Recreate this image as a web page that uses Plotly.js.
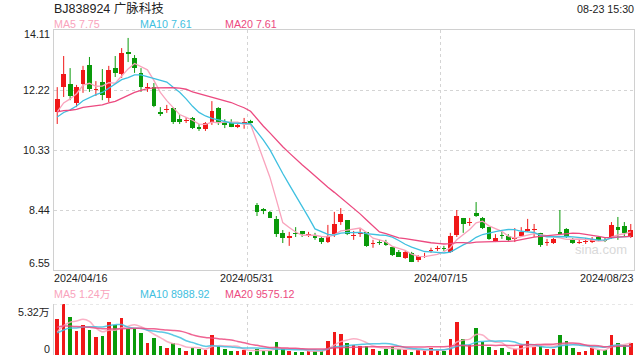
<!DOCTYPE html>
<html><head><meta charset="utf-8">
<script src="https://cdn.plot.ly/plotly-3.0.1.min.js"></script>
<style>html,body{margin:0;padding:0;background:#fff}#c{width:640px;height:360px}</style>
</head><body><div id="c"></div>
<script>
const titleText = 'BJ838924 广脉科技';
const timeText = '08-23 15:30';
const dateLabels = ['2024/04/16','2024/05/31','2024/07/15','2024/08/23'];
const dateIdx = [0,30,60,89];
const priceTicks = [14.11,12.22,10.33,8.44,6.55];
const volTickLabels = ['5.32万','0'];
const volMax = 53200;
const volMaText = ['MA5 1.24万','MA10 8988.92','MA20 9575.12'];

const open  = [11.53,12.31,12.41,11.81,12.41,13.01,12.22,12.47,11.97,12.91,12.72,13.42,13.23,12.76,12.28,12.31,11.53,11.60,11.65,11.30,11.25,11.34,11.05,10.99,11.21,11.65,11.21,11.18,11.05,11.18,11.24,8.60,8.47,8.38,8.16,7.72,7.56,7.72,7.78,7.66,7.65,7.56,7.43,7.68,8.06,8.12,7.62,7.68,7.75,7.37,7.43,7.43,7.28,7.12,6.93,7.09,6.87,6.96,7.15,7.21,7.25,7.12,7.65,8.19,8.03,8.34,8.19,7.90,7.46,7.65,7.62,7.53,7.62,7.78,7.80,7.72,7.40,7.40,7.75,7.84,7.53,7.40,7.43,7.43,7.59,7.50,7.59,7.90,7.94,7.59];
const close = [11.94,12.72,12.03,12.31,12.85,12.25,12.25,12.06,12.85,12.76,13.39,13.36,12.91,12.31,12.31,11.72,11.47,11.62,11.21,11.21,11.28,11.02,11.00,11.18,11.56,11.18,11.12,11.05,11.12,11.21,11.18,8.38,8.41,8.19,7.68,7.56,7.62,7.68,7.68,7.68,7.56,7.43,7.62,8.00,8.31,7.68,7.65,7.72,7.31,7.40,7.40,7.34,7.02,6.96,7.12,6.80,6.99,6.99,7.18,7.25,7.21,7.62,8.25,8.00,8.06,8.25,7.87,7.53,7.56,7.62,7.50,7.56,7.75,7.84,7.84,7.34,7.43,7.53,7.68,7.59,7.40,7.43,7.46,7.53,7.50,7.46,7.97,7.81,7.72,7.81];
const high  = [12.31,13.29,12.91,12.38,12.98,13.26,12.50,12.88,12.98,13.29,13.54,13.86,13.32,12.91,12.44,12.44,11.68,11.75,11.68,11.43,11.37,11.37,11.15,11.21,11.87,11.68,11.30,11.30,11.18,11.34,11.28,8.66,8.50,8.41,8.25,7.81,7.75,7.90,7.78,7.75,7.72,7.59,7.97,8.38,8.50,8.12,7.78,7.87,7.75,7.50,7.50,7.50,7.28,7.18,7.15,7.12,7.02,7.09,7.25,7.31,7.31,7.72,8.44,8.19,8.19,8.69,8.22,7.90,7.68,7.75,7.68,7.87,7.90,8.16,8.00,7.72,7.53,7.56,8.44,7.87,7.56,7.50,7.56,7.59,7.62,7.56,8.06,8.22,8.06,8.00];
const low   = [11.15,12.00,11.90,11.68,12.13,12.16,12.03,11.90,11.84,12.63,12.60,13.10,12.76,12.16,12.16,11.68,11.40,11.50,11.15,11.15,11.18,10.99,10.93,10.93,11.12,11.12,11.02,11.05,11.02,11.00,11.12,8.25,8.31,8.19,7.59,7.40,7.31,7.59,7.59,7.59,7.50,7.37,7.40,7.59,7.97,7.65,7.50,7.59,7.28,7.25,7.34,7.31,6.99,6.96,6.90,6.80,6.80,6.93,7.09,7.15,7.15,7.09,7.59,7.72,7.94,8.22,7.84,7.50,7.43,7.53,7.46,7.43,7.59,7.75,7.59,7.28,7.31,7.37,7.65,7.56,7.37,7.37,7.37,7.40,7.46,7.43,7.53,7.50,7.62,7.56];
const volume = [37500,53200,39300,25300,31300,26000,18500,19800,34000,31300,38300,26800,27800,23300,12800,17400,9400,7600,12200,7600,4500,7000,6300,5200,20900,9400,6300,4500,4200,5200,3500,6300,4200,4200,13900,6000,4200,3500,3500,4200,4200,4500,14900,24300,21900,12800,10400,9400,9400,6300,4200,6300,8000,6000,5200,3500,5200,4200,7000,5200,4200,16700,34800,16700,10400,28500,13900,8700,5200,7600,3500,6300,10400,14900,8700,9400,6300,6300,20900,14900,7600,3500,4500,7600,5200,5200,20900,12800,10400,12800];
// estimated closes/volumes of the 19 sessions before the window (seed the moving averages)
const priorCloses = [11.9,11.8,11.7,11.6,11.7,11.75,11.65,11.6,11.7,11.5,11.3,11.2,11.1,11.2,11.25,11.3,11.4,11.5,11.51];
const priorVolumes = [30000,40000,35000,38000,32000,36000,34000,37000,33000,35000,22000,20000,25000,21000,22000,20000,22000,19000,21500];

const RED='#f01818', GREEN='#0a9a0a';
const C5='#f9a3bc', C10='#3fc0e0', C20='#ec4a80';
const FONT='"Liberation Sans", Arial, "Noto Sans CJK SC", sans-serif';

function ma(prior, data, n){
  const all = prior.concat(data), off = prior.length, out=[];
  for(let i=0;i<data.length;i++){
    const j=i+off; let s=0,c=0;
    for(let k=Math.max(0,j-n+1);k<=j;k++){s+=all[k];c++;}
    out.push(s/c);
  }
  return out;
}
const idx = close.map((_,i)=>i);
const up = idx.map(i=>close[i]>=open[i]);
const colors = up.map(u=>u?RED:GREEN);
const m5=ma(priorCloses,close,5), m10=ma(priorCloses,close,10), m20=ma(priorCloses,close,20);
const v5=ma(priorVolumes,volume,5), v10=ma(priorVolumes,volume,10), v20=ma(priorVolumes,volume,20);

function wick(sel){
  const x=[],y=[];
  idx.forEach(i=>{ if(up[i]===sel){x.push(i,i,null);y.push(low[i],high[i],null);} });
  return {type:'scatter',mode:'lines',x,y,line:{color:sel?RED:GREEN,width:1},hoverinfo:'skip',xaxis:'x',yaxis:'y'};
}
const traces=[
  wick(true), wick(false),
  {type:'bar',x:idx,base:idx.map(i=>Math.min(open[i],close[i])),
   y:idx.map(i=>Math.max(Math.abs(close[i]-open[i]),0.03)),width:0.74,
   marker:{color:colors,line:{width:0}},hoverinfo:'skip',xaxis:'x',yaxis:'y'},
  {type:'scatter',mode:'lines',x:idx,y:m5,line:{color:C5,width:1.3},hoverinfo:'skip',xaxis:'x',yaxis:'y'},
  {type:'scatter',mode:'lines',x:idx,y:m10,line:{color:C10,width:1.3},hoverinfo:'skip',xaxis:'x',yaxis:'y'},
  {type:'scatter',mode:'lines',x:idx,y:m20,line:{color:C20,width:1.3},hoverinfo:'skip',xaxis:'x',yaxis:'y'},
  {type:'bar',x:idx,y:volume,width:0.55,marker:{color:colors,line:{width:0}},hoverinfo:'skip',xaxis:'x2',yaxis:'y2'},
  {type:'scatter',mode:'lines',x:idx,y:v5,line:{color:C5,width:1.5,shape:'spline'},opacity:0.85,hoverinfo:'skip',xaxis:'x2',yaxis:'y2'},
  {type:'scatter',mode:'lines',x:idx,y:v10,line:{color:C10,width:1.5,shape:'spline'},opacity:0.85,hoverinfo:'skip',xaxis:'x2',yaxis:'y2'},
  {type:'scatter',mode:'lines',x:idx,y:v20,line:{color:C20,width:1.5,shape:'spline'},opacity:0.85,hoverinfo:'skip',xaxis:'x2',yaxis:'y2'}
];

const W=640,H=360;
const px=v=>v/W, py=v=>1-v/H;
const gridX = dateIdx.slice(1,3).map(i=>i-0.5);
const xr=[-0.5, close.length-0.5];
const ann=[];
const txt=(text,x,y,xanchor,size,color,xref,yref,yshift)=>ann.push({text,x,y,xanchor,yanchor:'middle',xref:xref||'paper',yref:yref||'paper',yshift:yshift||0,showarrow:false,borderpad:0,borderwidth:0,font:{family:FONT,size,color}});
txt(titleText,px(54),py(8.5),'left',12.5,'#222');
txt(timeText,px(634),py(9),'right',10.7,'#222');
const f2=v=>v.toFixed(2);
txt('MA5 '+f2(m5[m5.length-1]),px(54),py(24),'left',10.7,C5);
txt('MA10 '+f2(m10[m10.length-1]),px(140),py(24),'left',10.7,C10);
txt('MA20 '+f2(m20[m20.length-1]),px(225),py(24),'left',10.7,C20);
txt(volMaText[0],px(54),py(294),'left',10.7,C5);
txt(volMaText[1],px(140),py(294),'left',10.7,C10);
txt(volMaText[2],px(225),py(294),'left',10.7,C20);
priceTicks.forEach((v,k)=>{
  const sh = k===0?-4:(k===priceTicks.length-1?7:0);
  txt(v.toFixed(2),px(50),v,'right',10.7,'#222','paper','y',sh);
});
txt(volTickLabels[0],px(50),volMax,'right',10.7,'#222','paper','y2',-8);
txt(volTickLabels[1],px(50),0,'right',10.7,'#222','paper','y2',6);
dateLabels.forEach((d,k)=>{
  const i=dateIdx[k];
  const last=k===dateLabels.length-1;
  txt(d, last? i+0.5 : i-0.5, py(278.3), k===0?'left':(last?'right':'center'),10.7,'#222','x','paper');
});
txt('sina.com',px(601),py(249),'center',13,'#d9d9d9');

const layout={
  width:W,height:H,margin:{l:0,r:0,t:0,b:0},paper_bgcolor:'#fff',plot_bgcolor:'rgba(0,0,0,0)',
  showlegend:false,bargap:0,barmode:'overlay',
  xaxis:{domain:[px(54),px(634)],range:xr,anchor:'y',tickvals:gridX,showticklabels:false,ticks:'',
    showgrid:true,gridcolor:'#d4d4d4',griddash:'dot',gridwidth:1,showline:true,mirror:true,linecolor:'#d0d0d0',linewidth:1,zeroline:false,fixedrange:true},
  yaxis:{domain:[1-270/H,1-30/H],range:[priceTicks[priceTicks.length-1],priceTicks[0]],tickvals:priceTicks.slice(1,-1),showticklabels:false,ticks:'',
    showgrid:true,gridcolor:'#d4d4d4',griddash:'dot',showline:true,mirror:true,linecolor:'#d0d0d0',linewidth:1,zeroline:false},
  xaxis2:{domain:[px(54),px(634)],range:xr,anchor:'y2',matches:'x',tickvals:gridX,showticklabels:false,ticks:'',
    showgrid:true,gridcolor:'#d4d4d4',griddash:'dot',showline:false,zeroline:false},
  yaxis2:{domain:[1-355/H,1-304/H],range:[0,volMax],showticklabels:false,ticks:'',showgrid:false,
    showline:true,linecolor:'#d0d0d0',linewidth:1,zeroline:false},
  shapes:[{type:'line',xref:'paper',yref:'y2',x0:px(54),x1:px(634),y0:volMax,y1:volMax,line:{color:'#d0d0d0',width:1,dash:'dot'}}],
  annotations:ann
};
Plotly.newPlot('c',traces,layout,{staticPlot:true,displayModeBar:false});
</script></body></html>
